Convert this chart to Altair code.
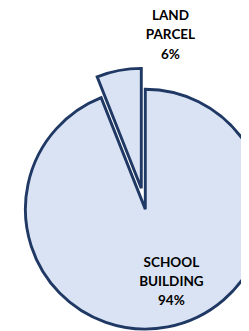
import altair as alt
import pandas as pd

categories = ["SCHOOL BUILDING", "LAND PARCEL"]
values = [94, 6]
order = [0, 1]

df = pd.DataFrame({"category": categories, "value": values, "order": order})

W, H = 241, 323
CX, CY = 142, 202.5
R = 124
EXPLODE = 22
FILL = "#DAE3F3"
STROKE = "#1F3864"

base = alt.Chart(df).transform_window(
    end="sum(value)", sort=[alt.SortField("order")], frame=[None, 0]
).transform_calculate(
    start="datum.end - datum.value",
    mid="(datum.start + datum.end) / 2 / 100 * 2 * PI",
    ex=f"datum.category == 'LAND PARCEL' ? {EXPLODE} : 0",
).transform_calculate(
    px=f"{CX} + datum.ex * sin(datum.mid)",
    py=f"{CY} - datum.ex * cos(datum.mid)",
    label="replace(datum.category, ' ', '\\n') + '\\n' + datum.value + '%'",
)

theta_scale = alt.Scale(domain=[0, 100], range=[0, 6.283185307179586])

arcs = base.mark_arc(
    fill=FILL, stroke=STROKE, strokeWidth=3, strokeJoin="miter", outerRadius=R
).encode(
    theta=alt.Theta("start:Q", scale=theta_scale),
    theta2="end:Q",
    x=alt.X("px:Q", scale=None),
    y=alt.Y("py:Q", scale=None),
)

text_props = dict(
    font="Lato", fontSize=14, fontWeight="bold", color="#000000",
    align="center", baseline="middle", lineBreak="\n", lineHeight=20,
)

land_label = base.transform_filter("datum.category == 'LAND PARCEL'").mark_text(
    **text_props
).encode(text="label:N", x=alt.value(168), y=alt.value(3))

school_label = base.transform_filter("datum.category == 'SCHOOL BUILDING'").mark_text(
    **text_props
).encode(text="label:N", x=alt.value(169), y=alt.value(258))

chart = alt.layer(arcs, land_label, school_label).properties(
    width=W, height=H, padding=0, autosize="none"
).configure_view(stroke=None)

chart.save("out.html", embed_options={"renderer": "svg", "actions": False})
